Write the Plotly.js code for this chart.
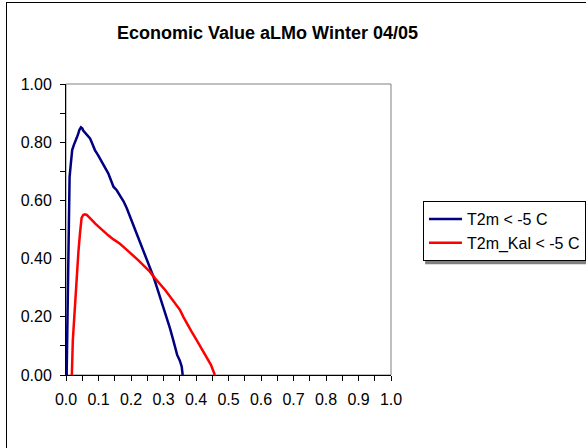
<!DOCTYPE html>
<html>
<head>
<meta charset="utf-8">
<script src="https://cdn.plot.ly/plotly-3.0.1.min.js"></script>
<style>
html,body{margin:0;padding:0;background:#fff;}
#wrap{position:relative;width:586px;height:448px;overflow:hidden;}
#chart{position:absolute;left:0;top:0;width:586px;height:448px;}
#frame{position:absolute;left:6px;top:2px;width:700px;height:600px;border:1px solid #000;pointer-events:none;}
</style>
</head>
<body>
<div id="wrap"><div id="chart"></div><div id="frame"></div></div>
<script>
// Data
const chartTitle = "Economic Value aLMo Winter 04/05";
const seriesNames = ["T2m < -5 C", "T2m_Kal < -5 C"];

const blueX = [0.002, 0.004, 0.006, 0.008, 0.010, 0.011, 0.014, 0.019, 0.024, 0.028, 0.033, 0.038, 0.041, 0.046, 0.050, 0.053, 0.060, 0.067, 0.074, 0.081, 0.089, 0.099, 0.110, 0.120, 0.130, 0.138, 0.146, 0.156, 0.166, 0.177, 0.187, 0.195, 0.202, 0.212, 0.222, 0.232, 0.245, 0.258, 0.270, 0.280, 0.289, 0.300, 0.310, 0.320, 0.330, 0.336, 0.342, 0.350, 0.356, 0.359];
const blueY = [0.000, 0.150, 0.320, 0.480, 0.580, 0.680, 0.716, 0.773, 0.790, 0.805, 0.815, 0.830, 0.842, 0.851, 0.848, 0.840, 0.830, 0.822, 0.813, 0.795, 0.773, 0.755, 0.733, 0.713, 0.693, 0.670, 0.647, 0.635, 0.619, 0.597, 0.573, 0.550, 0.527, 0.500, 0.475, 0.445, 0.410, 0.372, 0.335, 0.300, 0.269, 0.235, 0.200, 0.160, 0.120, 0.095, 0.069, 0.050, 0.029, 0.000];

const redX = [0.018, 0.019, 0.021, 0.023, 0.026, 0.028, 0.031, 0.033, 0.038, 0.043, 0.045, 0.048, 0.053, 0.058, 0.064, 0.071, 0.079, 0.090, 0.100, 0.110, 0.120, 0.130, 0.146, 0.165, 0.182, 0.200, 0.222, 0.240, 0.258, 0.274, 0.290, 0.305, 0.320, 0.335, 0.351, 0.361, 0.371, 0.386, 0.402, 0.418, 0.433, 0.446, 0.458];
const redY = [0.000, 0.074, 0.120, 0.155, 0.210, 0.258, 0.310, 0.361, 0.420, 0.487, 0.521, 0.540, 0.550, 0.552, 0.550, 0.543, 0.533, 0.520, 0.510, 0.498, 0.490, 0.480, 0.466, 0.452, 0.435, 0.418, 0.395, 0.375, 0.355, 0.332, 0.312, 0.292, 0.270, 0.245, 0.223, 0.200, 0.178, 0.150, 0.120, 0.090, 0.063, 0.035, 0.000];

const xTickVals = [0,0.05,0.1,0.15,0.2,0.25,0.3,0.35,0.4,0.45,0.5,0.55,0.6,0.65,0.7,0.75,0.8,0.85,0.9,0.95,1.0];
const xTickText = ["0.0","","0.1","","0.2","","0.3","","0.4","","0.5","","0.6","","0.7","","0.8","","0.9","","1.0"];
const yTickVals = [0,0.1,0.2,0.3,0.4,0.5,0.6,0.7,0.8,0.9,1.0];
const yTickText = ["0.00","","0.20","","0.40","","0.60","","0.80","","1.00"];

const font = "Arial, 'Liberation Sans', sans-serif";

const traces = [
  {x: blueX, y: blueY, name: seriesNames[0], type: "scatter", mode: "lines",
   line: {color: "#000080", width: 2.5}},
  {x: redX, y: redY, name: seriesNames[1], type: "scatter", mode: "lines",
   line: {color: "#FF0000", width: 2.5}}
];

const layout = {
  width: 586, height: 448,
  margin: {l: 66, r: 195, t: 84, b: 73, pad: 0},
  paper_bgcolor: "#fff", plot_bgcolor: "#fff",
  font: {family: font, size: 16, color: "#000"},
  title: {text: "<b>" + chartTitle + "</b>", font: {family: font, size: 18, color: "#000"},
          xref: "container", yref: "container", x: 0.4565, xanchor: "center", y: 0.928, yanchor: "middle"},
  xaxis: {range: [0, 1], tickmode: "array", tickvals: xTickVals, ticktext: xTickText,
          ticks: "outside", ticklen: 5, tickcolor: "#000", tickwidth: 1, ticklabelstandoff: 5,
          showline: true, linecolor: "#000", linewidth: 1, showgrid: false, zeroline: false,
          tickfont: {family: font, size: 16}, fixedrange: true},
  yaxis: {range: [0, 1], tickmode: "array", tickvals: yTickVals, ticktext: yTickText,
          ticks: "outside", ticklen: 5, tickcolor: "#000", tickwidth: 1, ticklabelstandoff: 5,
          showline: true, linecolor: "#000", linewidth: 1, showgrid: false, zeroline: false,
          tickfont: {family: font, size: 16}, fixedrange: true},
  showlegend: true,
  legend: {xref: "container", yref: "container", x: 0.7218, y: 0.5513, xanchor: "left", yanchor: "top",
           itemwidth: 33, bordercolor: "#000", borderwidth: 1, bgcolor: "#fff", tracegroupgap: 0,
           font: {family: font, size: 16, color: "#000"}},
  shapes: [
    {type: "rect", xref: "paper", yref: "paper", x0: 0, x1: 1, y0: 0, y1: 1,
     line: {color: "#808080", width: 1}, layer: "below"},
    {type: "rect", xref: "paper", yref: "paper", x0: 1.105, x1: 1.7, y0: 0.381, y1: 0.402,
     fillcolor: "#808080", line: {width: 0}, layer: "below"}
  ]
};

Plotly.newPlot("chart", traces, layout, {staticPlot: true, displayModeBar: false});
</script>
</body>
</html>
